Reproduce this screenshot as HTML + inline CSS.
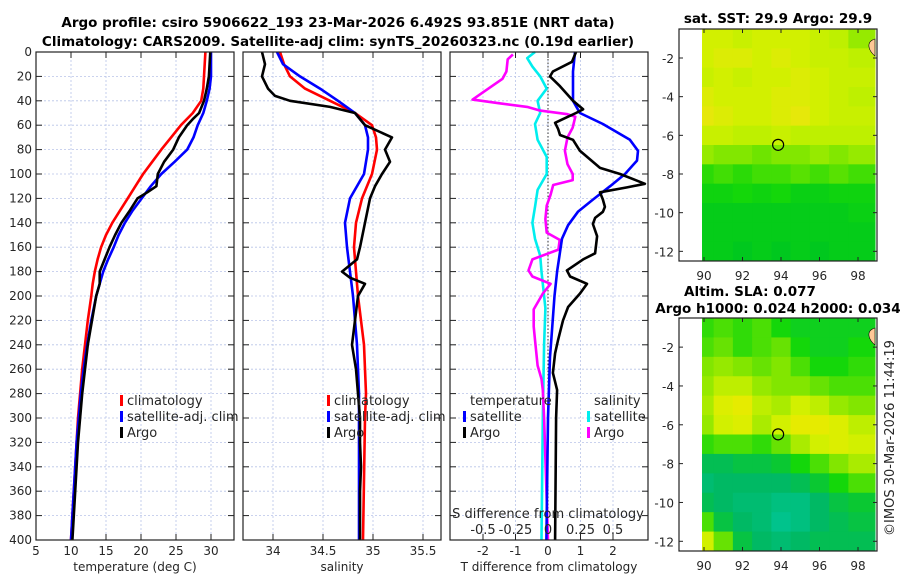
<!DOCTYPE html>
<html><head><meta charset="utf-8"><style>
body{margin:0;background:#fff;}
svg text{font-family:"DejaVu Sans","Liberation Sans",sans-serif;fill:#262626;}
.t{font-size:12px;}
.b{font-weight:bold;font-size:13.5px;fill:#000;}
</style></head><body>
<svg id="c" width="900" height="580" viewBox="0 0 900 580" xmlns="http://www.w3.org/2000/svg">
<g id="g"></g>
</svg>
<script>
// ---------- data ----------
const depthTicks=[0,20,40,60,80,100,120,140,160,180,200,220,240,260,280,300,320,340,360,380,400];
const tempTicks=[5,10,15,20,25,30];
const salTicks=[34,34.5,35,35.5];
const salTickLabels=["34","34.5","35","35.5"];
const tdiffTicks=[-2,-1,0,1,2];
const sdiffTicks=[-0.5,-0.25,0,0.25,0.5];
const sdiffTickLabels=["-0.5","-0.25","0","0.25","0.5"];

const depthClim=[0,10,20,30,40,50,60,70,80,90,100,110,120,130,140,150,160,170,180,190,200,220,240,260,280,300,320,340,360,380,400];
const tClim=[29.2,29.1,29.0,28.9,28.6,27.4,25.7,24.3,22.9,21.6,20.3,19.2,18.1,17.0,15.9,15.0,14.3,13.8,13.4,13.1,12.9,12.4,12.0,11.6,11.3,11.0,10.8,10.6,10.4,10.2,10.0];
const tSat=[30.0,30.0,30.0,29.8,29.4,28.9,28.1,27.5,26.6,24.8,22.9,21.4,20.1,18.8,17.7,16.8,16.1,15.3,14.6,14.1,13.6,12.9,12.3,11.8,11.4,11.1,10.8,10.6,10.4,10.2,10.0];
const depthArgoT=[0,10,20,30,40,50,55,60,70,80,90,100,110,115,120,130,140,150,160,170,180,190,200,220,240,260,280,300,320,340,360,380,400];
const tArgo=[29.9,29.8,29.7,29.4,29.0,28.3,27.4,26.6,25.4,24.6,23.3,22.4,22.2,20.9,19.5,18.4,17.2,16.3,15.5,14.8,14.1,14.1,13.6,13.0,12.4,12.0,11.6,11.3,11.0,10.8,10.6,10.4,10.2];

const depthArgoS=[0,10,20,30,36,40,45,50,60,70,80,90,100,110,120,140,160,170,180,185,190,200,220,240,260,280,300,320,340,360,380,400];
const sArgo=[33.89,33.92,33.89,33.95,34.02,34.17,34.57,34.82,34.92,35.19,35.12,35.17,35.09,35.02,34.97,34.92,34.87,34.84,34.69,34.77,34.92,34.85,34.82,34.79,34.83,34.85,34.87,34.87,34.88,34.87,34.87,34.87];
const depthSClim=[0,10,20,30,40,50,60,70,80,100,120,140,160,180,200,240,280,300,400];
const sClim=[34.07,34.11,34.17,34.32,34.57,34.82,34.99,35.03,35.04,34.99,34.89,34.83,34.81,34.83,34.85,34.91,34.93,34.92,34.90];
const sSat=[34.04,34.10,34.27,34.47,34.65,34.82,34.92,34.95,34.95,34.91,34.77,34.72,34.74,34.77,34.80,34.84,34.86,34.86,34.86];

const depthDT=[0,8,16,20,28,40,47,50,55,58,63,68,72,81,95,100,108,111,115,121,127,131,136,141,151,165,170,179,184,190,198,209,220,236,247,263,277,300,400];
const dtArgo=[0.86,0.74,0.15,0.06,0.37,0.77,1.08,0.86,0.46,0.22,0.31,0.37,0.77,0.98,1.6,2.22,2.98,2.43,1.6,1.69,1.75,1.69,1.45,1.38,1.51,1.45,1.08,0.58,0.68,1.2,0.98,0.62,0.46,0.31,0.22,0.15,0.28,0.25,0.22];
const depthDTs=[0,16,40,50,59,72,81,89,100,110,121,131,142,153,164,180,200,236,250,300,400];
const dtSat=[0.83,0.77,0.77,0.98,1.69,2.52,2.77,2.74,2.37,1.91,1.38,0.92,0.62,0.43,0.37,0.28,0.2,0.1,0.06,0.0,-0.05];
const depthDS=[2,6,16,22,33,39,42,45,48,51,53,62,70,81,92,100,105,109,117,126,137,148,154,162,170,179,184,190,198,211,225,236,257,268,277,300,400];
const dsArgo=[-0.27,-0.31,-0.32,-0.35,-0.5,-0.58,-0.38,-0.16,-0.06,0.15,0.21,0.19,0.15,0.13,0.15,0.19,0.19,0.04,0.02,-0.01,-0.02,-0.01,0.09,0.08,-0.12,-0.15,-0.12,0.02,-0.04,-0.11,-0.11,-0.10,-0.08,-0.05,-0.04,-0.03,0.0];
const depthDSs=[0,5,12,20,30,40,50,59,72,86,100,113,127,140,153,167,180,210,240,300,400];
const dsSat=[-0.1,-0.16,-0.12,-0.06,-0.01,-0.08,-0.06,-0.1,-0.08,-0.01,-0.01,-0.08,-0.1,-0.12,-0.1,-0.06,-0.05,-0.02,-0.03,-0.04,-0.05];

const lonTicks=[90,92,94,96,98];
const latTicks=[-2,-4,-6,-8,-10,-12];
const gridLon=[90,91,92,93,94,95,96,97,98];
const gridLat=[-1,-2,-3,-4,-5,-6,-7,-8,-9,-10,-11,-12];
const sstGrid=[
[30.0,30.0,29.9,30.0,30.0,30.0,29.9,29.8,29.6],
[30.0,30.1,30.1,30.0,30.1,30.0,29.9,29.9,29.8],
[29.9,30.0,29.9,30.0,30.0,30.1,30.0,29.9,29.9],
[30.1,30.0,30.0,30.0,30.1,30.1,30.0,29.9,29.8],
[30.2,30.1,30.0,30.0,30.1,30.2,30.0,29.9,29.9],
[29.9,29.9,29.8,29.8,29.9,29.8,29.8,29.8,29.8],
[29.6,29.5,29.5,29.4,29.5,29.5,29.6,29.5,29.6],
[29.1,29.2,29.1,29.2,29.2,29.3,29.2,29.3,29.2],
[28.9,28.9,29.0,28.9,29.0,28.8,28.8,28.9,28.9],
[28.7,28.7,28.7,28.7,28.7,28.7,28.7,28.7,28.8],
[28.7,28.7,28.7,28.7,28.7,28.7,28.7,28.7,28.7],
[28.7,28.7,28.6,28.7,28.6,28.7,28.6,28.7,28.7]];
const slaGrid=[
[0.02,0.03,0.02,0.03,0.01,0.00,0.00,0.00,0.00],
[0.03,0.04,0.02,0.03,0.04,0.01,0.00,0.00,0.01],
[0.05,0.06,0.05,0.04,0.05,0.03,0.01,0.01,0.02],
[0.06,0.08,0.08,0.06,0.05,0.05,0.04,0.03,0.03],
[0.07,0.10,0.11,0.08,0.07,0.09,0.08,0.06,0.05],
[0.06,0.09,0.10,0.07,0.09,0.11,0.11,0.10,0.08],
[0.02,0.03,0.03,0.02,0.04,0.07,0.09,0.10,0.09],
[-0.03,-0.03,-0.02,-0.02,-0.01,0.01,0.03,0.05,0.07],
[-0.05,-0.04,-0.04,-0.04,-0.04,-0.03,-0.01,0.01,0.03],
[-0.03,-0.04,-0.05,-0.05,-0.06,-0.06,-0.04,-0.02,-0.01],
[0.03,-0.02,-0.04,-0.05,-0.07,-0.06,-0.04,-0.03,-0.02],
[0.09,0.04,-0.02,-0.04,-0.05,-0.04,-0.03,-0.03,-0.03]];
const argoLon=[93.851];
const argoLat=[-6.492];

// ---------- helpers ----------
const NS="http://www.w3.org/2000/svg";
const root=document.getElementById('g');
function mk(tag,attrs,parent){const e=document.createElementNS(NS,tag);for(const k in attrs)e.setAttribute(k,attrs[k]);(parent||root).appendChild(e);return e;}
function txt(x,y,s,cls,anchor,parent){const e=mk('text',{x:x,y:y,class:cls||'t','text-anchor':anchor||'middle'},parent);e.textContent=s;return e;}

const PT=52,PB=540;
const yD=d=>PT+d*(PB-PT)/400;
const panels=[
 {x0:36,x1:234,v0:5,v1:5+198/7,name:'temperature-panel'},
 {x0:243,x1:441,v0:33.7,v1:35.68,name:'salinity-panel'},
 {x0:450,x1:648,v0:-3.0,v1:3.092,name:'difference-panel'}];
const xT=v=>panels[0].x0+(v-panels[0].v0)*7;
const xS=v=>panels[1].x0+(v-panels[1].v0)*100;
const xDT=v=>548+v*32.5;
const xDS=v=>548+v*130;

// Titles
let e=txt(338,27,"Argo profile: csiro 5906622_193 23-Mar-2026 6.492S 93.851E (NRT data)",'b');

e=txt(338,46,"Climatology: CARS2009. Satellite-adj clim: synTS_20260323.nc (0.19d earlier)",'b');


function panelFrame(p,xticks,xfun,labels,xlabel,leftLabels){
  const g=mk('g',{});
  
  
  mk('rect',{x:p.x0,y:PT,width:p.x1-p.x0,height:PB-PT,fill:'#fff'},g);
  depthTicks.forEach(d=>{
    const l=mk('line',{x1:p.x0,x2:p.x1,y1:yD(d),y2:yD(d),stroke:'#b8c4e8','stroke-width':0.8,'stroke-dasharray':'2,2'},g);
    
    mk('line',{x1:p.x0,x2:p.x0+6,y1:yD(d),y2:yD(d),stroke:'#222'},g);
    mk('line',{x1:p.x1-6,x2:p.x1,y1:yD(d),y2:yD(d),stroke:'#222'},g);
    if(leftLabels){const t=txt(p.x0-4,yD(d)+4,String(d),'t','end',g);}
  });
  xticks.forEach((v,i)=>{
    const x=xfun(v);
    mk('line',{x1:x,x2:x,y1:PT,y2:PB,stroke:'#b8c4e8','stroke-width':0.8,'stroke-dasharray':'2,2'},g);
    mk('line',{x1:x,x2:x,y1:PB,y2:PB-6,stroke:'#222'},g);
    mk('line',{x1:x,x2:x,y1:PT,y2:PT+6,stroke:'#222'},g);
    const t=txt(x,555,labels[i],'t','middle',g);
  });
  const xl=txt((p.x0+p.x1)/2,571,xlabel,'t','middle',g);
  
  return g;
}
function frameBorder(p){mk('rect',{x:p.x0,y:PT,width:p.x1-p.x0,height:PB-PT,fill:'none',stroke:'#222','stroke-width':1.2});}
function series(depths,vals,xf,color,name){
  const pts=depths.map((d,i)=>xf(vals[i]).toFixed(1)+','+yD(d).toFixed(1)).join(' ');
  const l=mk('polyline',{points:pts,fill:'none',stroke:color,'stroke-width':2.6,'stroke-linejoin':'round'});
  
  
}
function legendEntry(x,y,color,label,name){
  const g=mk('g',{});
  
  
  if(color)mk('rect',{x:x,y:y-10,width:3,height:11,fill:color},g);
  txt(x+7,y,label,'t','start',g).setAttribute('style','font-size:13px');
}

// Panel 1
panelFrame(panels[0],tempTicks,xT,tempTicks.map(String),'temperature (deg C)',true);
series(depthClim,tClim,xT,'#ff0000','temperature-climatology-line');
series(depthClim,tSat,xT,'#0000ff','temperature-satellite-line');
series(depthArgoT,tArgo,xT,'#000000','temperature-argo-line');
frameBorder(panels[0]);
legendEntry(120,405,'#ff0000','climatology','legend-entry-climatology');
legendEntry(120,421,'#0000ff','satellite-adj. clim','legend-entry-satellite');
legendEntry(120,437,'#000000','Argo','legend-entry-argo');

// Panel 2
panelFrame(panels[1],salTicks,xS,salTickLabels,'salinity',false);
series(depthSClim,sClim,xS,'#ff0000','salinity-climatology-line');
series(depthSClim,sSat,xS,'#0000ff','salinity-satellite-line');
series(depthArgoS,sArgo,xS,'#000000','salinity-argo-line');
frameBorder(panels[1]);
legendEntry(327,405,'#ff0000','climatology','legend-entry-climatology-s');
legendEntry(327,421,'#0000ff','satellite-adj. clim','legend-entry-satellite-s');
legendEntry(327,437,'#000000','Argo','legend-entry-argo-s');

// Panel 3
panelFrame(panels[2],tdiffTicks,xDT,tdiffTicks.map(String),'T difference from climatology',false);
mk('line',{x1:xDT(0),x2:xDT(0),y1:PT,y2:PB,stroke:'#333','stroke-width':1,'stroke-dasharray':'1.5,2'});
series(depthDSs,dsSat,xDS,'#00eeee','sdiff-satellite-line');
series(depthDS,dsArgo,xDS,'#ff00ff','sdiff-argo-line');
series(depthDTs,dtSat,xDT,'#0000ff','tdiff-satellite-line');
series(depthDT,dtArgo,xDT,'#000000','tdiff-argo-line');
frameBorder(panels[2]);
legendEntry(463,405,null,'temperature','legend-title-temperature');
legendEntry(463,421,'#0000ff','satellite','legend-entry-tdiff-satellite');
legendEntry(463,437,'#000000','Argo','legend-entry-tdiff-argo');
legendEntry(587,405,null,'salinity','legend-title-salinity');
legendEntry(587,421,'#00eeee','satellite','legend-entry-sdiff-satellite');
legendEntry(587,437,'#ff00ff','Argo','legend-entry-sdiff-argo');
e=txt(548,518,'S difference from climatology','t','middle');e.setAttribute('style','font-size:13px');

sdiffTicks.forEach((v,i)=>{const t=txt(xDS(v),534,sdiffTickLabels[i],'t','middle');t.setAttribute('style','font-size:13px');});

// ---------- maps ----------
const MX0=679,MX1=877;
const xLon=lon=>704+(lon-90)*19.25;
function sstColor(v){
  const stops=[[28.6,[0,200,30]],[29.0,[20,215,10]],[29.4,[110,228,0]],[29.8,[190,240,0]],[30.0,[210,240,0]],[30.2,[230,232,10]]];
  return interp(stops,v);
}
function slaColor(v){
  const stops=[[-0.07,[0,195,140]],[-0.04,[0,185,100]],[-0.01,[10,200,50]],[0.01,[20,215,10]],[0.05,[130,230,0]],[0.09,[210,240,0]],[0.11,[230,235,0]]];
  return interp(stops,v);
}
function interp(stops,v){
  if(v<=stops[0][0])return 'rgb('+stops[0][1]+')';
  for(let i=1;i<stops.length;i++){if(v<=stops[i][0]){const a=stops[i-1],b=stops[i],f=(v-a[0])/(b[0]-a[0]);return 'rgb('+a[1].map((c,k)=>Math.round(c+(b[1][k]-c)*f)).join(',')+')';}}
  return 'rgb('+stops[stops.length-1][1]+')';
}
function drawMap(top,bottom,grid,colorFn,name){
  const yLat=lat=>top+(-0.5-lat)*(bottom-top)/12;
  const g=mk('g',{});
  
  
  mk('rect',{x:MX0,y:top,width:MX1-MX0,height:bottom-top,fill:'#fff'},g);
  grid.forEach((row,r)=>row.forEach((v,c)=>{
    const lon=gridLon[c],lat=gridLat[r];
    const x0=Math.max(xLon(lon-0.5),702),x1=Math.min(xLon(lon+0.5),875);
    const cell=mk('rect',{x:x0,y:yLat(lat+0.5),width:(c==8?875:x1)-x0+0.5,height:yLat(lat-0.5)-yLat(lat+0.5)+0.5,fill:colorFn(v)},g);
    
  }));
  // land
  mk('path',{d:`M875 ${top+10} q-7 2 -6 8 q1 5 6 9 Z`,fill:'#ffc896',stroke:'#000','stroke-width':0.6},g);
  // argo marker
  const m=mk('circle',{cx:xLon(argoLon[0]),cy:yLat(argoLat[0]),r:5.5,fill:'none',stroke:'#000','stroke-width':1.2},g);
  
  mk('rect',{x:MX0,y:top,width:MX1-MX0,height:bottom-top,fill:'none',stroke:'#222','stroke-width':1.2},g);
  lonTicks.forEach(l=>{const x=xLon(l);
    mk('line',{x1:x,x2:x,y1:bottom,y2:bottom-4,stroke:'#222'},g);
    mk('line',{x1:x,x2:x,y1:top,y2:top+4,stroke:'#222'},g);
    txt(x,bottom+19,String(l),'t','middle',g);});
  latTicks.forEach(l=>{const y=yLat(l);
    mk('line',{x1:MX0,x2:MX0+4,y1:y,y2:y,stroke:'#222'},g);
    mk('line',{x1:MX1-4,x2:MX1,y1:y,y2:y,stroke:'#222'},g);
    txt(MX0-5,y+5,String(l),'t','end',g);});
}
drawMap(29,261,sstGrid,sstColor,'sst-map');
drawMap(318,551,slaGrid,slaColor,'sla-map');
e=txt(778,23,'sat. SST: 29.9 Argo: 29.9','b');
e=txt(750,296,'Altim. SLA: 0.077','b');
e=txt(778,313,'Argo h1000: 0.024 h2000: 0.034','b');
e=txt(0,0,'©IMOS 30-Mar-2026 11:44:19','t','middle');
e.setAttribute('transform','translate(894,438) rotate(-90)');e.setAttribute('style','font-size:13px');

</script>
</body></html>
